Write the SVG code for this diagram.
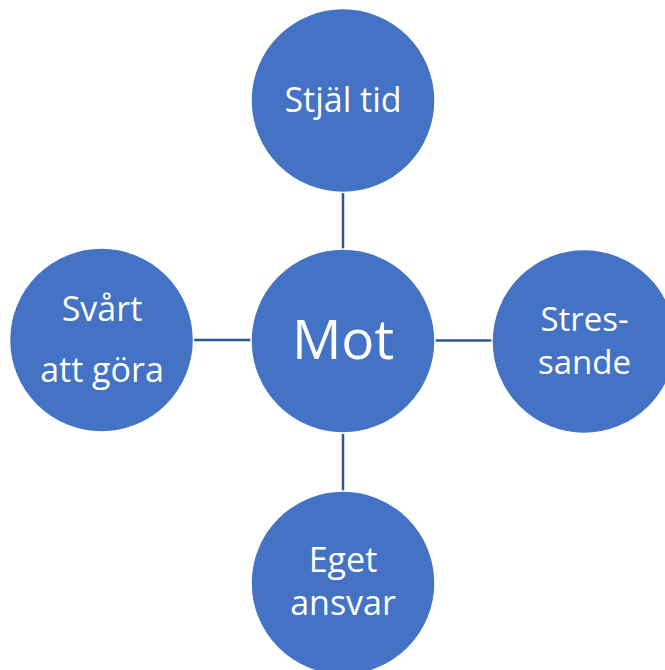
<svg xmlns="http://www.w3.org/2000/svg" width="665" height="670" viewBox="0 0 665 670">
<style>
.n{fill:#4472C4;stroke:#FFFFFF;stroke-width:1.5}
.t{fill:#FFFFFF;font-family:"Open Sans","Noto Sans",sans-serif;font-size:34px;text-anchor:middle}
.c{stroke:#2F5597;stroke-width:2.5;fill:none}
</style>
<rect width="665" height="670" fill="#FFFFFF"/>
<g id="connectors">
<line class="c" x1="343" y1="193" x2="343" y2="249"/>
<line class="c" x1="194" y1="340" x2="252" y2="340"/>
<line class="c" x1="435" y1="340.5" x2="492" y2="340.5"/>
<line class="c" x1="343" y1="434" x2="343" y2="491"/>
</g>
<g id="top"><circle class="n" cx="343" cy="100.5" r="92"/><text class="t" x="343" y="112">Stjäl tid</text></g>
<g id="center"><circle class="n" cx="343" cy="341" r="92"/><text class="t" x="343" y="359" style="font-size:55px">Mot</text></g>
<g id="left"><circle class="n" cx="101.5" cy="340" r="92"/><text class="t" x="102" y="321">Svårt</text><text class="t" x="102" y="382">att göra</text></g>
<g id="right"><circle class="n" cx="584" cy="341.5" r="92"/><text class="t" x="584.5" y="331" style="font-size:33px">Stres-</text><text class="t" x="584.5" y="374" style="font-size:33px">sande</text></g>
<g id="bottom"><circle class="n" cx="343" cy="583" r="92"/><text class="t" x="343" y="572">Eget</text><text class="t" x="343" y="615">ansvar</text></g>
</svg>
